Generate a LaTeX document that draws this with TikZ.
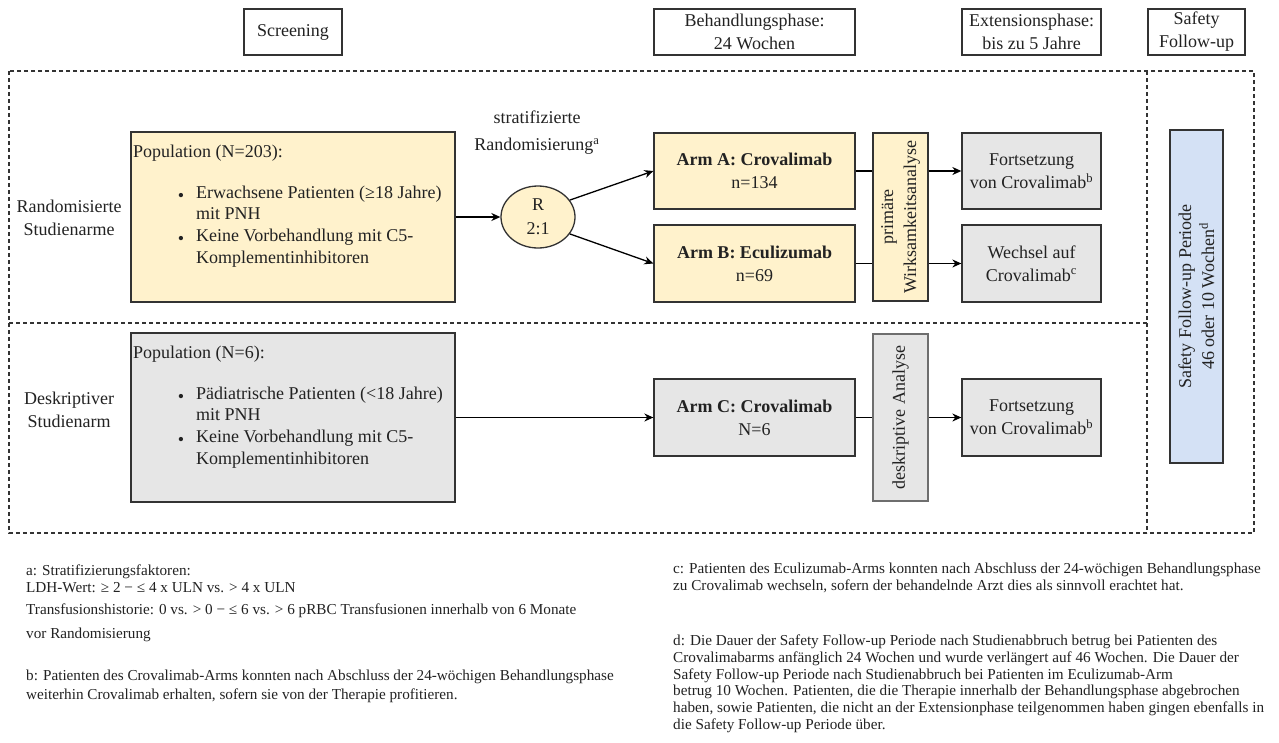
\documentclass[tikz,border=0pt]{standalone}
\usepackage{fontspec}
\setmainfont{Liberation Serif}
\usetikzlibrary{arrows.meta,shapes.geometric}
\definecolor{ink}{HTML}{222222}
\definecolor{edge}{HTML}{333333}
\definecolor{sand}{HTML}{FFF2CC}
\definecolor{fog}{HTML}{E6E6E6}
\definecolor{sky}{HTML}{D4E1F5}
\definecolor{slate}{HTML}{6E6E6E}

\begin{document}
\begin{tikzpicture}[x=1pt,y=-1pt,
  txt/.style={font=\fontsize{18}{23}\selectfont, text=ink, inner sep=0pt},
  note/.style={font=\fontsize{15.2}{17}\selectfont, text=ink, inner sep=0pt, anchor=mid west},
  card/.style={draw=edge, line width=1.3pt, inner sep=0pt, align=center, txt},
  head/.style={card, fill=white},
  sandbox/.style={card, fill=sand},
  fogbox/.style={card, fill=fog},
  link/.style={draw=black, line width=1.3pt},
  arr/.style={link, -{Stealth[length=9pt,width=8pt]}},
  frame/.style={draw=edge, line width=1.1pt, dash pattern=on 4pt off 3pt},
  line/.style={txt, anchor=mid west},
]
\fill[white] (0,0) rectangle (1279,742);
\useasboundingbox (0,0) rectangle (1279,742);

% phase headers
\node[head, minimum width=98, minimum height=46] (hScr) at (293,32) {Screening};
\node[head, minimum width=201, minimum height=46] (hBeh) at (754.5,32) {Behandlungsphase:\\24 Wochen};
\node[head, minimum width=139, minimum height=46] (hExt) at (1031.5,32) {Extensionsphase:\\bis zu 5 Jahre};
\node[head, minimum width=97, minimum height=46] (hSaf) at (1196.5,32) {Safety\\Follow-up};

% dashed study frame
\draw[frame] (9,71) rectangle (1254,533);
\draw[frame] (9,323) -- (1147,323);
\draw[frame] (1147,71) -- (1147,533);

% row labels
\node[txt, align=center] (lblR) at (69,218) {Randomisierte\\Studienarme};
\node[txt, align=center] (lblD) at (69,410) {Deskriptiver\\Studienarm};

% populations
\node[sandbox, minimum width=324, minimum height=170] (pop1) at (293,217) {};
\node[line] (p1t) at (133,155) {Population (N=203):};
\node[txt] (p1b1) at (181,197) {\textbullet};
\node[line] (p1l1) at (196,196) {Erwachsene Patienten (≥18 Jahre)};
\node[line] (p1l2) at (196,217) {mit PNH};
\node[txt] (p1b2) at (181,240) {\textbullet};
\node[line] (p1l3) at (196,239) {Keine Vorbehandlung mit C5-};
\node[line] (p1l4) at (196,261) {Komplementinhibitoren};

\node[fogbox, minimum width=324, minimum height=169] (pop2) at (293,417.5) {};
\node[line] (p2t) at (133,356) {Population (N=6):};
\node[txt] (p2b1) at (181,398) {\textbullet};
\node[line] (p2l1) at (196,397) {Pädiatrische Patienten (<18 Jahre)};
\node[line] (p2l2) at (196,418) {mit PNH};
\node[txt] (p2b2) at (181,441) {\textbullet};
\node[line] (p2l3) at (196,440) {Keine Vorbehandlung mit C5-};
\node[line] (p2l4) at (196,462) {Komplementinhibitoren};

% randomisation
\node[txt, align=center, font=\fontsize{18}{27}\selectfont] (strat) at (537,133) {stratifizierte\\Randomisierung\textsuperscript{a}};
\node[draw=edge, line width=1.3pt, fill=sand, ellipse, minimum width=74, minimum height=62,
      inner sep=0pt, txt, align=center, font=\fontsize{18}{24}\selectfont] (rnd) at (538,217) {R\\2:1};

% treatment arms
\node[sandbox, minimum width=201, minimum height=76] (armA) at (754.5,171) {\textbf{Arm A: Crovalimab}\\n=134};
\node[sandbox, minimum width=201, minimum height=77] (armB) at (754.5,263.5) {\textbf{Arm B: Eculizumab}\\n=69};
\node[fogbox, minimum width=201, minimum height=77] (armC) at (754.5,417.5) {\textbf{Arm C: Crovalimab}\\N=6};

% analysis bars
\node[sandbox, minimum width=55, minimum height=168] (prim) at (900.5,217) {};
\node[txt, rotate=90, align=center] (primT) at (prim.center) {primäre\\Wirksamkeitsanalyse};
\node[card, draw=slate, line width=1.8pt, fill=fog, minimum width=55, minimum height=167] (desk) at (900.5,417.5) {};
\node[txt, rotate=90] (deskT) at (desk.center) {deskriptive Analyse};

% extension
\node[fogbox, minimum width=139, minimum height=76] (fortA) at (1031.5,171) {Fortsetzung\\von Crovalimab\textsuperscript{b}};
\node[fogbox, minimum width=139, minimum height=77] (wech) at (1031.5,263.5) {Wechsel auf\\Crovalimab\textsuperscript{c}};
\node[fogbox, minimum width=139, minimum height=77] (fortC) at (1031.5,417.5) {Fortsetzung\\von Crovalimab\textsuperscript{b}};

% safety follow-up
\node[card, fill=sky, minimum width=53, minimum height=333] (safe) at (1196.5,296.5) {};
\node[txt, rotate=90, align=center] (safeT) at (safe.center) {Safety Follow-up Periode\\46 oder 10 Wochen\textsuperscript{d}};

% connectors
\draw[arr] (pop1.east) -- (rnd.west);
\draw[arr] (rnd.28) -- (armA.west);
\draw[arr] (rnd.-28) -- (armB.west);
\draw[link] (armA.east) -- (armA.east -| prim.west);
\draw[arr] (prim.east |- armA.east) -- (fortA.west);
\draw[link] (armB.east) -- (armB.east -| prim.west);
\draw[arr] (prim.east |- armB.east) -- (wech.west);
\draw[arr] (pop2.east) -- (armC.west);
\draw[link] (armC.east) -- (armC.east -| desk.west);
\draw[arr] (desk.east |- armC.east) -- (fortC.west);

% footnotes
\node[note] (fa1) at (26,573) {a: Stratifizierungsfaktoren:};
\node[note] (fa2) at (26,590) {LDH-Wert: ≥ 2 − ≤ 4 x ULN vs. > 4 x ULN};
\node[note] (fa3) at (26,612) {Transfusionshistorie: 0 vs. > 0 − ≤ 6 vs. > 6 pRBC Transfusionen innerhalb von 6 Monate};
\node[note] (fa4) at (26,636) {vor Randomisierung};
\node[note] (fb1) at (26,678) {b: Patienten des Crovalimab-Arms konnten nach Abschluss der 24-wöchigen Behandlungsphase};
\node[note] (fb2) at (26,697) {weiterhin Crovalimab erhalten, sofern sie von der Therapie profitieren.};

\node[note] (fc1) at (673,571) {c: Patienten des Eculizumab-Arms konnten nach Abschluss der 24-wöchigen Behandlungsphase};
\node[note] (fc2) at (673,588) {zu Crovalimab wechseln, sofern der behandelnde Arzt dies als sinnvoll erachtet hat.};
\node[note] (fd1) at (673,643) {d: Die Dauer der Safety Follow-up Periode nach Studienabbruch betrug bei Patienten des};
\node[note] (fd2) at (673,660) {Crovalimabarms anfänglich 24 Wochen und wurde verlängert auf 46 Wochen. Die Dauer der};
\node[note] (fd3) at (673,677) {Safety Follow-up Periode nach Studienabbruch bei Patienten im Eculizumab-Arm};
\node[note] (fd4) at (673,693) {betrug 10 Wochen. Patienten, die die Therapie innerhalb der Behandlungsphase abgebrochen};
\node[note] (fd5) at (673,710) {haben, sowie Patienten, die nicht an der Extensionphase teilgenommen haben gingen ebenfalls in};
\node[note] (fd6) at (673,727) {die Safety Follow-up Periode über.};
\end{tikzpicture}
\end{document}
